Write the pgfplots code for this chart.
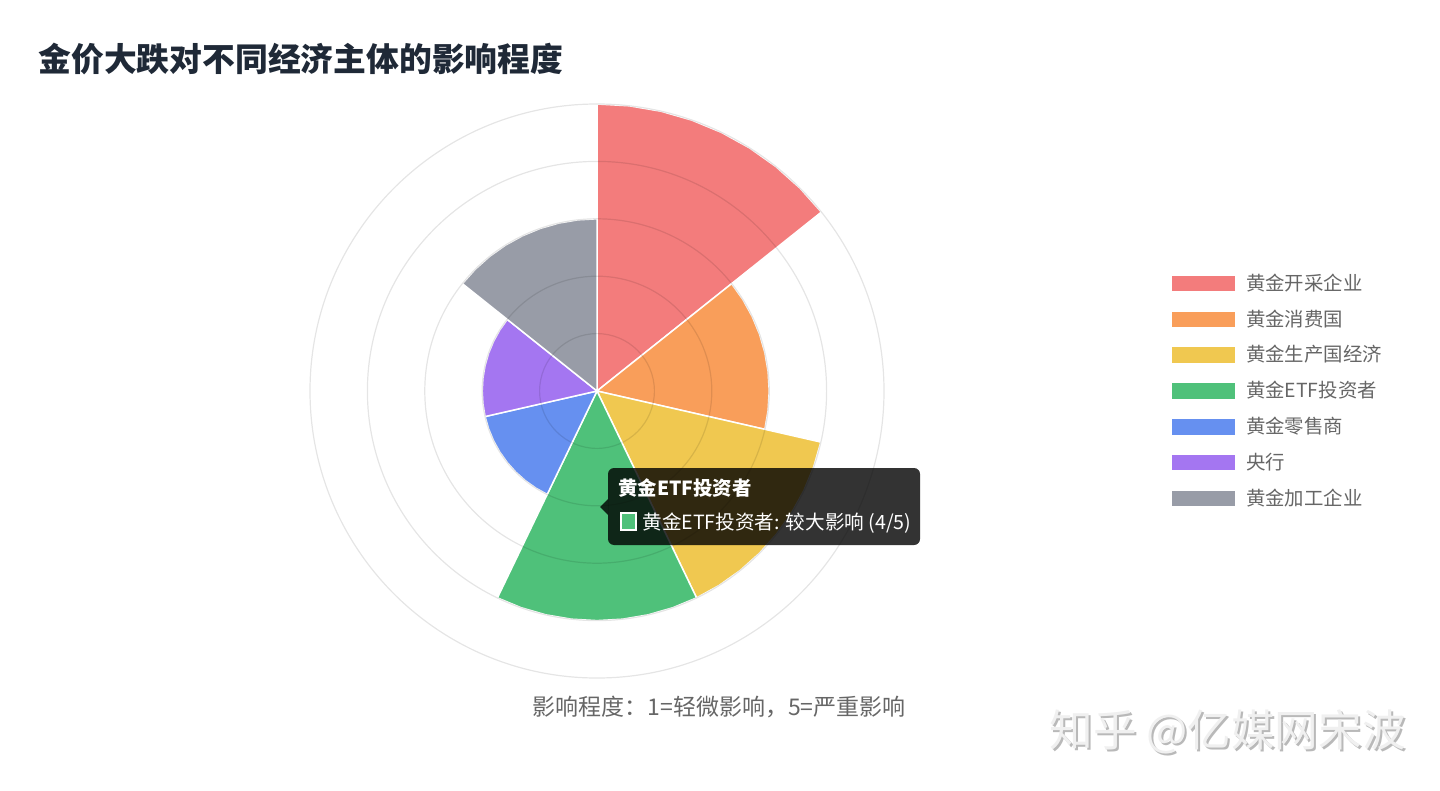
\documentclass[border=0pt]{standalone}
\usepackage{pgfplots}
\pgfplotsset{compat=1.18}
\usepgfplotslibrary{polar}
\usepackage{fontspec}
\setmainfont{Noto Sans CJK SC}
\definecolor{cred}{HTML}{F37C7C}
\definecolor{corange}{HTML}{F99E5A}
\definecolor{cyellow}{HTML}{F0C850}
\definecolor{cgreen}{HTML}{4FC17A}
\definecolor{cblue}{HTML}{6690F0}
\definecolor{cpurple}{HTML}{A476F1}
\definecolor{cgray}{HTML}{989CA7}
\definecolor{titlec}{HTML}{1F2937}
\definecolor{labc}{HTML}{666666}
\begin{document}
\begin{tikzpicture}[x=0.5pt,y=-0.5pt]
\useasboundingbox (0,0) rectangle (1440,791);
\node[anchor=base west, inner sep=0pt, text=titlec, font=\bfseries\fontsize{16.4pt}{19pt}\selectfont] at (38,72) {金价大跌对不同经济主体的影响程度};
\begin{polaraxis}[
  width=287pt, height=287pt, scale only axis,
  at={(298.5pt,-195.5pt)}, anchor=center,
  xmin=0, xmax=360, ymin=0, ymax=5,
  xtick=\empty, ytick={1,2,3,4}, yticklabels={}, yticklabel style={opacity=0}, major tick length=0pt,
  ymajorgrids,
  grid style={black, opacity=0.1, line width=0.6pt},
  x axis line style={black, opacity=0.1, line width=0.6pt},
  y axis line style={draw=none},
  axis on top, clip=false,
  legend style={at={(1.4985,0.719)}, anchor=north west, draw=none, fill=none,
    font=\fontsize{9.7pt}{11pt}\selectfont, text=labc, inner sep=0pt,
    row sep=0pt, column sep=5pt,
    nodes={inner sep=0pt, minimum height=17.9pt}},
  legend cell align=left,
  legend image code/.code={\fill[#1] (0pt,-4.25pt) rectangle (32pt,4.25pt);},
]
\addplot[fill=cred, draw=white, line width=0.75pt] coordinates {
 (0,0) (90,5) (83.57,5) (77.14,5) (70.71,5) (64.29,5) (57.86,5) (51.43,5) (45,5) (38.57,5) (0,0)} -- cycle;
\addlegendentry{黄金开采企业}
\addplot[fill=corange, draw=white, line width=0.75pt] coordinates {
 (0,0) (38.57,3) (32.14,3) (25.71,3) (19.29,3) (12.86,3) (6.43,3) (0,3) (-6.43,3) (-12.86,3) (0,0)} -- cycle;
\addlegendentry{黄金消费国}
\addplot[fill=cyellow, draw=white, line width=0.75pt] coordinates {
 (0,0) (-12.86,4) (-19.29,4) (-25.71,4) (-32.14,4) (-38.57,4) (-45,4) (-51.43,4) (-57.86,4) (-64.29,4) (0,0)} -- cycle;
\addlegendentry{黄金生产国经济}
\addplot[fill=cgreen, draw=white, line width=0.75pt] coordinates {
 (0,0) (-64.29,4) (-70.71,4) (-77.14,4) (-83.57,4) (-90,4) (-96.43,4) (-102.86,4) (-109.29,4) (-115.71,4) (0,0)} -- cycle;
\addlegendentry{黄金ETF投资者}
\addplot[fill=cblue, draw=white, line width=0.75pt] coordinates {
 (0,0) (-115.71,2) (-122.14,2) (-128.57,2) (-135,2) (-141.43,2) (-147.86,2) (-154.29,2) (-160.71,2) (-167.14,2) (0,0)} -- cycle;
\addlegendentry{黄金零售商}
\addplot[fill=cpurple, draw=white, line width=0.75pt] coordinates {
 (0,0) (-167.14,2) (-173.57,2) (-180,2) (-186.43,2) (-192.86,2) (-199.29,2) (-205.71,2) (-212.14,2) (-218.57,2) (0,0)} -- cycle;
\addlegendentry{央行}
\addplot[fill=cgray, draw=white, line width=0.75pt] coordinates {
 (0,0) (-218.57,3) (-225,3) (-231.43,3) (-237.86,3) (-244.29,3) (-250.71,3) (-257.14,3) (-263.57,3) (-270,3) (0,0)} -- cycle;
\addlegendentry{黄金加工企业}
\end{polaraxis}
% tooltip
\fill[black, opacity=0.8, rounded corners=3pt] (608,468) rectangle (920,545);
\fill[black, opacity=0.8] (600,507) -- (608,499) -- (608,515) -- cycle;
\node[anchor=base west, inner sep=0pt, text=white, font=\bfseries\fontsize{9.7pt}{11pt}\selectfont] at (618,495) {黄金ETF投资者};
\filldraw[fill=cgreen, draw=white, line width=1pt] (621,513) rectangle (636,530);
\node[anchor=base west, inner sep=0pt, text=white, font=\fontsize{9.8pt}{11pt}\selectfont] at (642,529) {黄金ETF投资者: 较大影响 (4/5)};
% caption
\node[anchor=base, inner sep=0pt, text=labc, font=\fontsize{11.5pt}{13pt}\selectfont] at (719,715) {影响程度：1=轻微影响，5=严重影响};
% watermark
\node[anchor=base west, inner sep=0pt, text=gray!55, font=\fontsize{21.8pt}{24pt}\selectfont] at (1051,748) {知乎 @亿媒网宋波};
\node[anchor=base west, inner sep=0pt, text=gray!12, font=\fontsize{21.8pt}{24pt}\selectfont] at (1049,746) {知乎 @亿媒网宋波};
\end{tikzpicture}
\end{document}
